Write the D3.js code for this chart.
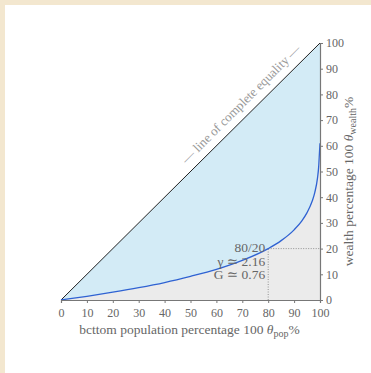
<!DOCTYPE html>
<html><head><meta charset="utf-8">
<script src="https://cdn.jsdelivr.net/npm/d3@7"></script>
<style>html,body{margin:0;padding:0;background:#f3e7cf;overflow:hidden}svg{display:block}</style>
</head><body>
<svg id="c" width="371" height="373"></svg>
<script>
const popPct    = [0, 5, 10, 20, 30, 40, 50, 60, 70, 80, 85, 90, 93, 95, 97, 98, 99, 99.5, 99.8, 100];
const wealthPct = [0, 0.7, 1.45, 3.05, 4.8, 6.8, 9.2, 11.9, 15.4, 20, 23.1, 27.3, 30.8, 34, 38.5, 41.9, 47.2, 52, 57.5, 61];
const tickValues = [0, 10, 20, 30, 40, 50, 60, 70, 80, 90, 100];
const annoLines = ["80/20", "γ ≃ 2.16", "G ≃ 0.76"];
const mark = {pop: 80, wealth: 20};

const svg = d3.select("#c");
const font = "'Liberation Serif', 'DejaVu Serif', serif";
svg.append("rect").attr("x",5).attr("y",5).attr("width",366).attr("height",368).attr("fill","#fff");

const x = d3.scaleLinear().domain([0,100]).range([61,320]);
const y = d3.scaleLinear().domain([0,100]).range([300,43]);
const pts = popPct.map((p,i)=>[p, wealthPct[i]]);

const grey = d3.area().x(d=>x(d[0])).y0(y(0)).y1(d=>y(d[1])).curve(d3.curveMonotoneX);
svg.append("path").attr("d", grey(pts)).attr("fill","#ebebeb");
const blue = d3.area().x(d=>x(d[0])).y0(d=>y(d[1])).y1(d=>y(d[0])).curve(d3.curveMonotoneX);
svg.append("path").attr("d", blue(pts)).attr("fill","#d3ebf6");
svg.append("path").attr("d", `M${x(100)},${y(wealthPct[wealthPct.length-1])}L${x(100)},${y(100)}`).attr("stroke","#d3ebf6").attr("stroke-width",1);

svg.append("line").attr("x1",x(mark.pop)).attr("x2",x(mark.pop)).attr("y1",y(0)).attr("y2",y(mark.wealth))
  .attr("stroke","#888").attr("stroke-dasharray","1,1.5").attr("stroke-width",0.9);
svg.append("line").attr("x1",x(mark.pop)).attr("x2",x(100)).attr("y1",y(mark.wealth)).attr("y2",y(mark.wealth))
  .attr("stroke","#888").attr("stroke-dasharray","1,1.5").attr("stroke-width",0.9);

svg.append("line").attr("x1",x(0)).attr("y1",y(0)).attr("x2",x(100)).attr("y2",y(100))
  .attr("stroke","#222").attr("stroke-width",1);

const line = d3.line().x(d=>x(d[0])).y(d=>y(d[1])).curve(d3.curveMonotoneX);
svg.append("path").attr("d", line(pts)).attr("fill","none").attr("stroke","#2f62d2").attr("stroke-width",1.3);

const xAxis = svg.append("g").attr("transform",`translate(0,${y(0)})`)
  .call(d3.axisBottom(x).tickValues(tickValues).tickSize(3).tickPadding(5).tickFormat(d3.format("d")));
const yAxis = svg.append("g").attr("transform",`translate(${x(100)},0)`)
  .call(d3.axisRight(y).tickValues(tickValues).tickSize(3).tickPadding(3).tickFormat(d3.format("d")));
[xAxis,yAxis].forEach(a=>{
  a.select(".domain").attr("stroke","#777").attr("stroke-width",1.2);
  a.selectAll(".tick line").attr("stroke","#777");
  a.selectAll(".tick text").attr("fill","#666").attr("font-family",font).attr("font-size",12);
});

svg.append("text")
  .attr("transform",`translate(244,107) rotate(-45)`)
  .attr("text-anchor","middle").attr("fill","#999").attr("font-family",font).attr("font-size",13)
  .text("— line of complete equality —");

annoLines.forEach((t,i)=>{
  svg.append("text").attr("x",x(mark.pop)-3).attr("y",252+i*13.5)
    .attr("text-anchor","end").attr("fill","#666").attr("font-family",font).attr("font-size",13.5)
    .text(t);
});

const xt = svg.append("text").attr("x",(x(0)+x(100))/2-1).attr("y",334).attr("text-anchor","middle")
  .attr("fill","#666").attr("font-family",font).attr("font-size",13.5);
xt.append("tspan").text("bcttom population percentage 100 ");
xt.append("tspan").attr("font-style","italic").text("θ");
xt.append("tspan").attr("font-size",10).attr("dy",3).text("pop");
xt.append("tspan").attr("dy",-3).text("%");

const yt = svg.append("text").attr("transform",`translate(353,${(y(0)+y(100))/2+10}) rotate(-90)`).attr("text-anchor","middle")
  .attr("fill","#666").attr("font-family",font).attr("font-size",13.5);
yt.append("tspan").text("wealth percentage 100 ");
yt.append("tspan").attr("font-style","italic").text("θ");
yt.append("tspan").attr("font-size",10).attr("dy",3).text("wealth");
yt.append("tspan").attr("dy",-3).text("%");
</script>
</body></html>
